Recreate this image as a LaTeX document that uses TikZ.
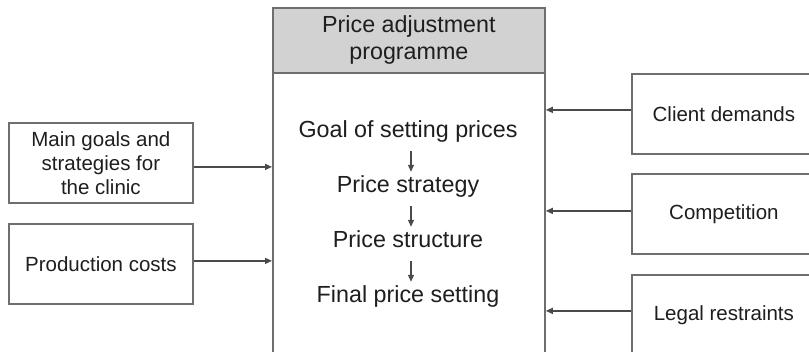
\documentclass[tikz,border=0pt]{standalone}
\usepackage{fontspec}
\setmainfont{Liberation Sans}
\usetikzlibrary{arrows.meta}
\definecolor{boxline}{HTML}{6E6E6E}
\definecolor{headfill}{HTML}{D2D2D2}
\definecolor{inkline}{HTML}{4A4A4A}
\definecolor{txt}{HTML}{1E1E1E}
\begin{document}
\begin{tikzpicture}[x=1pt,y=-1pt,
  sidebox/.style={draw=boxline, line width=1.8pt, fill=white, minimum width=184pt,
    minimum height=80pt, align=center, inner sep=0pt, text=txt,
    font=\fontsize{20.5}{24}\selectfont},
  mainbox/.style={draw=boxline, line width=1.8pt, fill=white, inner sep=0pt},
  headbox/.style={draw=boxline, line width=1.8pt, fill=headfill, align=center,
    inner sep=0pt, text=txt, font=\fontsize{23.3}{27}\selectfont},
  steptext/.style={inner sep=0pt, text height=17pt, text depth=5pt, text=txt,
    font=\fontsize{23.3}{27}\selectfont},
  feed/.style={draw=inkline, line width=1.4pt,
    -{Triangle[length=7pt,width=6pt]}},
  flow/.style={draw=inkline, line width=1.1pt,
    -{Triangle[length=7pt,width=6pt]}, shorten <=8pt, shorten >=4pt}]
  \useasboundingbox (0,0) rectangle (809,352);
  \clip (0,0) rectangle (809,352);

  % central programme box with its shaded heading
  \node[mainbox, anchor=north west, minimum width=272pt, minimum height=370pt]
    (main) at (272,7) {};
  \node[headbox, anchor=north west, minimum width=272pt, minimum height=65pt]
    (head) at (272,7) {Price adjustment\\programme};

  % sequence of steps inside the programme
  \node[steptext] (g1) at (408,132) {Goal of setting prices};
  \node[steptext] (g2) at (408,187) {Price strategy};
  \node[steptext] (g3) at (408,242) {Price structure};
  \node[steptext] (g4) at (408,297) {Final price setting};
  \draw[flow] ([xshift=3pt]g1.south) -- ([xshift=3pt]g2.north);
  \draw[flow] ([xshift=3pt]g2.south) -- ([xshift=3pt]g3.north);
  \draw[flow] ([xshift=3pt]g3.south) -- ([xshift=3pt]g4.north);

  % internal inputs on the left
  \node[sidebox, anchor=north west] (goals) at (8,122)
    {Main goals and\\strategies for\\the clinic};
  \node[sidebox, anchor=north west] (costs) at (8,223) {Production costs};

  % external inputs on the right
  \node[sidebox, anchor=north west] (client) at (631,73) {Client demands};
  \node[sidebox, anchor=north west] (comp) at (631,173) {Competition};
  \node[sidebox, anchor=north west] (legal) at (631,274) {Legal restraints};

  % connectors into the programme box
  \draw[feed] ([yshift=-4pt]goals.east) -- ([yshift=-4pt]goals.east -| main.west);
  \draw[feed] ([yshift=3pt]costs.east) -- ([yshift=3pt]costs.east -| main.west);
  \draw[feed] ([yshift=4pt]client.west) -- ([yshift=4pt]client.west -| main.east);
  \draw[feed] ([yshift=3pt]comp.west) -- ([yshift=3pt]comp.west -| main.east);
  \draw[feed] ([yshift=4pt]legal.west) -- ([yshift=4pt]legal.west -| main.east);
\end{tikzpicture}
\end{document}
